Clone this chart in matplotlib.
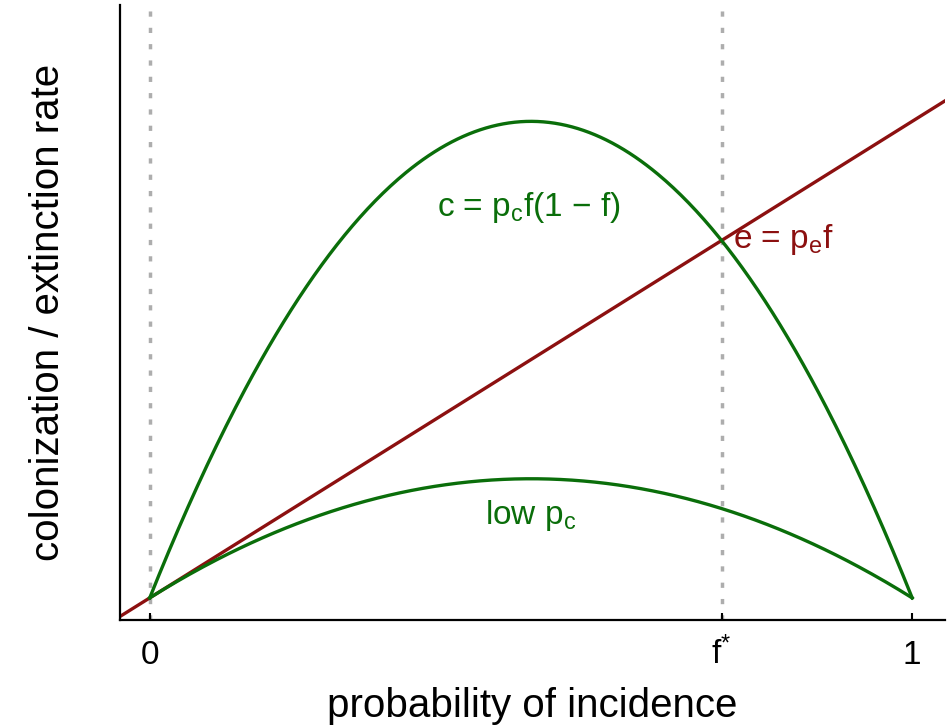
import numpy as np
import matplotlib
matplotlib.use("Agg")
import matplotlib.pyplot as plt

plt.rcParams['font.family'] = ['Liberation Sans', 'DejaVu Sans']
plt.rcParams['mathtext.fontset'] = 'custom'
plt.rcParams['mathtext.rm'] = 'Liberation Sans'
plt.rcParams['mathtext.it'] = 'Liberation Sans'

# Levins metapopulation model parameters
p_c = 1.0        # colonization probability (high)
p_c_low = 0.25   # colonization probability (low)
p_e = 0.25       # extinction probability
f_star = 1 - p_e / p_c

tick_pos = [0, f_star, 1]
tick_labels = ['0', r'f$^\mathregular{*}$', '1']

green = '#0a6e0a'
red = '#8c1010'
grey = '#adadad'

f = np.linspace(0, 1, 400)
f_line = np.linspace(-0.05, 1.06, 10)

fig = plt.figure(figsize=(9.5, 7.26), dpi=100)
ax = fig.add_axes([0.1263, 0.146, 0.8684, 0.847])

ax.axvline(0, color=grey, lw=2.5, ls=(0, (1.5, 3.2)), zorder=1)
ax.axvline(f_star, color=grey, lw=2.5, ls=(0, (1.5, 3.2)), zorder=1)

ax.plot(f, p_c * f * (1 - f), color=green, lw=2.4, zorder=3)
ax.plot(f, p_c_low * f * (1 - f), color=green, lw=2.4, zorder=3)
ax.plot(f_line, p_e * f_line, color=red, lw=2.4, zorder=2)

ax.text(0.497, 0.205, r'c = p$_\mathregular{c}$f(1 $-$ f)', color=green,
        fontsize=24, ha='center', va='center')
ax.text(0.765, 0.188, r'e = p$_\mathregular{e}$f', color=red,
        fontsize=24, ha='left', va='center')
ax.text(0.50, 0.043, r'low p$_\mathregular{c}$', color=green,
        fontsize=24, ha='center', va='center')

ax.set_xlim(-0.039, 1.043)
ax.set_ylim(-0.0116, 0.311)
ax.set_xticks(tick_pos)
ax.set_xticklabels(tick_labels)
ax.set_yticks([])
ax.tick_params(axis='x', direction='in', length=5, width=1.5, pad=32, labelsize=24)
# line the tick labels up on their baseline so f* sits level with 0 and 1
for lab in ax.get_xticklabels():
    lab.set_verticalalignment('baseline')

for side in ['top', 'right']:
    ax.spines[side].set_visible(False)
for side in ['left', 'bottom']:
    ax.spines[side].set_linewidth(1.6)

ax.set_xlabel('probability of incidence', fontsize=29, labelpad=11)
ax.set_ylabel('colonization / extinction rate', fontsize=29, labelpad=38)

fig.savefig('out.png', dpi=100)
